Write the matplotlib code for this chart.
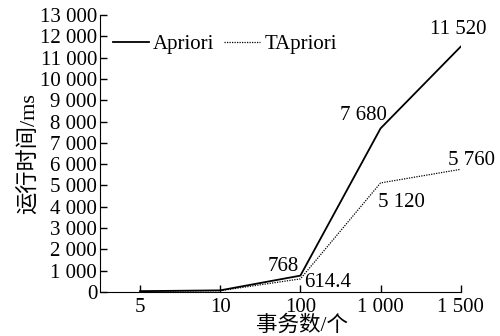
import numpy as np
import matplotlib
matplotlib.use('Agg')
import matplotlib.pyplot as plt
import matplotlib.ticker as ticker

plt.rcParams['font.family'] = ['Liberation Serif', 'Noto Sans CJK SC']

# Data
categories = ['5', '10', '100', '1 000', '1 500']
apriori = [38.4, 76.8, 768, 7680, 11520]
tapriori = [30.7, 61.4, 614.4, 5120, 5760]
apriori_labels = {2: '768', 3: '7 680', 4: '11 520'}
tapriori_labels = {2: '614.4', 3: '5 120', 4: '5 760'}

fig = plt.figure(figsize=(5.0, 3.36), dpi=100)
ax = fig.add_axes([0.2, 0.131, 0.7214, 0.824])

x = np.arange(len(categories))
ax.plot(x, apriori, color='k', lw=1.3, label='Apriori')
ax.plot(x, tapriori, color='k', lw=0.9, ls=(0, (1, 1)), label='TApriori')

# value labels (offsets in pixels)
aoff = {2: (-17, 9), 3: (-17, 13), 4: (-2, 17)}
toff = {2: (27, -4), 3: (21, -20), 4: (11, 9)}
for i, s in apriori_labels.items():
  ax.annotate(s, (x[i], apriori[i]), xytext=aoff[i], textcoords='offset pixels',
              ha='center', va='center', fontsize=15)
for i, s in tapriori_labels.items():
  ax.annotate(s, (x[i], tapriori[i]), xytext=toff[i], textcoords='offset pixels',
              ha='center', va='center', fontsize=15)

ax.set_xlim(-0.5, 4)
ax.set_ylim(0, 13000)
ax.set_xticks(x)
ax.set_xticklabels(categories)
ax.yaxis.set_major_locator(ticker.MultipleLocator(1000))
ax.yaxis.set_major_formatter(ticker.FuncFormatter(lambda v, pos: '{:,.0f}'.format(v).replace(',', ' ')))

ax.spines['top'].set_visible(False)
ax.spines['right'].set_visible(False)
ax.tick_params(axis='both', direction='in', length=5, width=1, labelsize=15, pad=2)
ax.tick_params(axis='x', pad=4)

ax.set_xlabel('事务数/个', fontsize=15.5)
ax.xaxis.set_label_coords(0.56, -0.085)
ax.set_ylabel('运行时间/ms', fontsize=16, labelpad=0)

ax.legend(loc='upper left', bbox_to_anchor=(0.0, 0.975), ncol=2, frameon=False,
          fontsize=15, handlelength=1.75, handletextpad=0.2, columnspacing=0.45,
          borderaxespad=0.2)

fig.savefig('out.png', dpi=100)
